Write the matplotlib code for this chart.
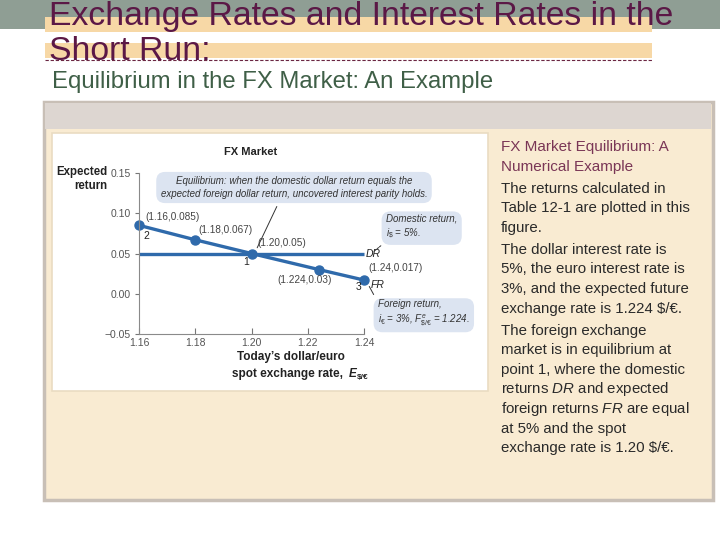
import matplotlib
matplotlib.use('Agg')
import matplotlib.pyplot as plt
import matplotlib.patches as patches

plt.rcParams['font.family'] = ['Liberation Sans', 'DejaVu Sans']
plt.rcParams['mathtext.fontset'] = 'custom'
plt.rcParams['mathtext.rm'] = 'Liberation Sans'
plt.rcParams['mathtext.it'] = 'Liberation Sans:italic'
plt.rcParams['mathtext.bf'] = 'Liberation Sans:bold'

# chart data (Table 12-1)
rates = [1.16, 1.18, 1.20, 1.224, 1.24]
foreign_return = [0.085, 0.067, 0.05, 0.03, 0.017]
point_labels = ['(1.16,0.085)', '(1.18,0.067)', '(1.20,0.05)', '(1.224,0.03)', '(1.24,0.017)']
dr_rates = [1.16, 1.24]
domestic_return = [0.05, 0.05]
x_ticks = [1.16, 1.18, 1.20, 1.22, 1.24]
x_tick_labels = ['1.16', '1.18', '1.20', '1.22', '1.24']
y_ticks = [-0.05, 0.0, 0.05, 0.10, 0.15]
y_tick_labels = ['\u22120.05', '0.00', '0.05', '0.10', '0.15']

title_lines = ['Exchange Rates and Interest Rates in the', 'Short Run:']
subtitle = 'Equilibrium in the FX Market: An Example'
side_head = ['FX Market Equilibrium: A', 'Numerical Example']
side_paras = [
    ['The returns calculated in', 'Table 12-1 are plotted in this', 'figure.'],
    ['The dollar interest rate is', '5%, the euro interest rate is',
     '3%, and the expected future', 'exchange rate is 1.224 \\$/€.'],
    ['The foreign exchange', 'market is in equilibrium at', 'point 1, where the domestic',
     'returns $\\mathit{DR}$ and expected', 'foreign returns $\\mathit{FR}$ are equal',
     'at 5% and the spot', 'exchange rate is 1.20 \\$/€.'],
]

blue = '#2f6aab'
W, H = 720, 540

fig = plt.figure(figsize=(7.2, 5.4), dpi=100)
fig.patch.set_facecolor('white')

# background axes in pixel units for the slide layout
bg = fig.add_axes([0, 0, 1, 1], zorder=0)
bg.set_xlim(0, W)
bg.set_ylim(H, 0)
bg.axis('off')

# slide title
bg.add_patch(patches.Rectangle((0, 0), W, 29, fc='#8f9e94', ec='none'))
bg.add_patch(patches.Rectangle((45, 17), 607, 15, fc='#f7d8a6', ec='none'))
bg.add_patch(patches.Rectangle((45, 43), 607, 15, fc='#f7d8a6', ec='none'))
bg.text(49, 25, title_lines[0], fontsize=24.3, color='#5b1846', va='baseline')
bg.text(49, 60, title_lines[1], fontsize=24.3, color='#5b1846', va='baseline')
bg.plot([45, 652], [59.5, 59.5], ls=(0, (3, 1.6)), color='#6b2642', lw=0.8)
bg.text(52, 88, subtitle, fontsize=17.2, color='#3f5f47', va='baseline')

# panel
bg.add_patch(patches.Rectangle((43.5, 101.5), 669, 398, fc='#f9ebd2', ec='#c8bfb6', lw=2.5))
bg.add_patch(patches.Rectangle((45, 103), 666, 26, fc='#ddd6d1', ec='none'))
bg.add_patch(patches.Rectangle((52, 133), 436, 258, fc='white', ec='#eadcc2', lw=1.2))

# side text
y = 147
for line in side_head:
    bg.text(501, y, line, fontsize=11, color='#7a3656', va='center')
    y += 19.6
for para in side_paras:
    y += 2.4
    for line in para:
        bg.text(501, y, line, fontsize=10.8, color='#2a2a2a', va='center')
        y += 19.6

# chart axes
ax = fig.add_axes([139 / W, (H - 334) / H, 225 / W, 161 / H], zorder=1)
ax.set_facecolor('none')
ax.set_xlim(1.16, 1.24)
ax.set_ylim(-0.05, 0.15)
for s in ['top', 'right']:
    ax.spines[s].set_visible(False)
for s in ['left', 'bottom']:
    ax.spines[s].set_color('#8a8a8a')
    ax.spines[s].set_linewidth(0.8)
ax.set_xticks(x_ticks)
ax.set_xticklabels(x_tick_labels)
ax.set_yticks(y_ticks)
ax.set_yticklabels(y_tick_labels)
ax.tick_params(axis='x', direction='in', length=4, color='#777', labelsize=7.5,
               labelcolor='#555', pad=3)
ax.tick_params(axis='y', direction='out', length=3, color='#777', labelsize=7.5,
               labelcolor='#555', pad=3)

ax.plot(dr_rates, domestic_return, color=blue, lw=2.4, solid_capstyle='butt', clip_on=False)
ax.plot(rates, foreign_return, color=blue, lw=2.4, marker='o', ms=6.5, clip_on=False)

label_offsets = [(0.0021, 0.0103, 'left'), (0.0012, 0.0122, 'left'), (0.002, 0.013, 'left'),
                 (-0.005, -0.013, 'center'), (0.0014, 0.015, 'left')]
for xv, yv, lab, (dx, dy, ha) in zip(rates, foreign_return, point_labels, label_offsets):
    ax.text(xv + dx, yv + dy, lab, fontsize=7.2, color='#444', ha=ha, va='center', clip_on=False)

ax.text(1.1614, 0.0717, '2', fontsize=7.5, color='#222', ha='left', va='center')
ax.text(1.198, 0.0394, '1', fontsize=7.5, color='#222', ha='center', va='center')
ax.text(1.2382, 0.0084, '3', fontsize=7.5, color='#222', ha='center', va='center', clip_on=False)
ax.text(1.2425, 0.0109, 'FR', fontsize=7.5, color='#222', style='italic', va='center', clip_on=False)
ax.text(1.2407, 0.049, 'DR', fontsize=7.5, color='#222', style='italic', va='center', clip_on=False)

# connectors from callouts
ax.annotate('', xy=(1.2016, 0.054), xytext=(278, H - 204), textcoords='figure pixels',
            arrowprops=dict(arrowstyle='-', color='#333', lw=0.7), annotation_clip=False)
ax.annotate('', xy=(1.2428, 0.0506), xytext=(383, H - 244), textcoords='figure pixels',
            arrowprops=dict(arrowstyle='-', color='#333', lw=0.7, ls=(0, (2, 1))),
            annotation_clip=False)
ax.annotate('', xy=(1.2414, 0.0121), xytext=(375, H - 297), textcoords='figure pixels',
            arrowprops=dict(arrowstyle='-', color='#333', lw=0.7), annotation_clip=False)

# callout boxes
box = dict(boxstyle='round,pad=0.45,rounding_size=0.9', fc='#dce4f1', ec='none')
bg.text(294, 187.5, 'Equilibrium: when the domestic dollar return equals the\n'
        'expected foreign dollar return, uncovered interest parity holds.',
        fontsize=7, style='italic', color='#333', ha='center', va='center',
        linespacing=1.3, bbox=box, zorder=3)
bg.text(386, 227, 'Domestic return,\n$i_{\\$}$ = 5%.', fontsize=7, style='italic', color='#333',
        ha='left', va='center', linespacing=1.3, bbox=box, zorder=3)
bg.text(378, 313.5, 'Foreign return,\n$i_{€}$ = 3%, $F^{e}_{\\$/€}$ = 1.224.', fontsize=7,
        style='italic', color='#333', ha='left', va='center', linespacing=1.3, bbox=box,
        zorder=3)

# chart titles
bg.text(251, 152, 'FX Market', fontsize=8, fontweight='bold', color='#222', ha='center', va='center')
bg.text(107, 179, 'Expected\nreturn', fontsize=8.3, fontweight='bold', color='#222',
        ha='right', va='center', linespacing=1.15)
bg.text(345, 357, 'Today\u2019s dollar/euro', fontsize=8.5, fontweight='bold', color='#222',
        ha='right', va='center')
bg.text(343, 374, 'spot exchange rate,', fontsize=8.5, fontweight='bold', color='#222',
        ha='right', va='center')
bg.text(349, 374, 'E', fontsize=8.5, fontweight='bold', style='italic', color='#222',
        ha='left', va='center')
bg.text(357, 377, '\\$/€', fontsize=6, fontweight='bold', color='#222', ha='left', va='center')

fig.savefig('out.png', dpi=100)
